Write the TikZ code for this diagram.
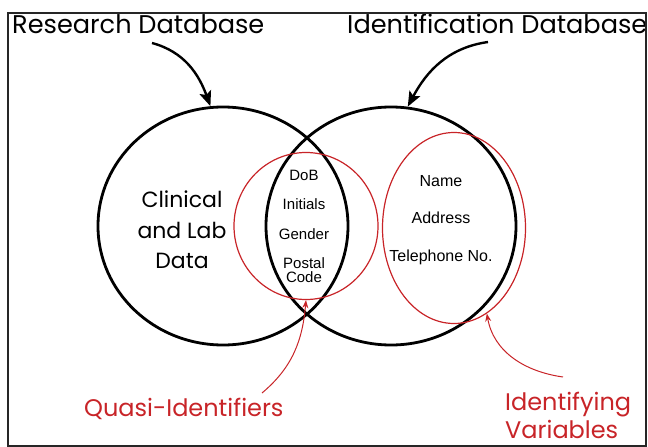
\documentclass[tikz,border=0pt]{standalone}
\usepackage{fontspec}
\setmainfont{Poppins}
\newfontfamily\arialfont{Liberation Sans}
\usetikzlibrary{arrows.meta,shapes.geometric}
\definecolor{linkred}{RGB}{200,36,40}

\begin{document}
\begin{tikzpicture}[x=1pt,y=-1pt,
	database/.style={draw=black,line width=2.8pt,ellipse,minimum width=250pt,minimum height=238pt},
	group/.style={draw=linkred,line width=1.2pt,ellipse},
	title/.style={font=\fontsize{25.6}{28}\selectfont,anchor=base west,inner sep=0pt},
	datum/.style={font=\fontsize{22}{26}\selectfont,anchor=base,inner sep=0pt},
	field/.style={font=\arialfont\fontsize{15}{16}\selectfont,anchor=base,inner sep=0pt},
	redlabel/.style={font=\fontsize{24}{28}\selectfont,text=linkred,anchor=base west,inner sep=0pt},
	pointer/.style={line width=2.4pt,-{Stealth[length=15pt,width=12pt,inset=3pt]}},
	redpointer/.style={draw=linkred,line width=1pt,-{Stealth[length=8pt,width=6pt]}}]
	\useasboundingbox (0,0) rectangle (648,447);

	% the two databases
	\node[database] (resdb) at (223,226) {};
	\node[database] (iddb) at (391,226) {};

	% groups of variables
	\node[group,minimum width=144pt,minimum height=147pt] (quasi) at (306,226) {};
	\node[group,minimum width=143pt,minimum height=191pt] (ident) at (454,228) {};

	\node[title] (restitle) at (12,34) {Research Database};
	\node[title] (idtitle) at (347,34) {Identification Database};

	\node[datum] (clin1) at (182,207) {Clinical};
	\node[datum] (clin2) at (182,238) {and Lab};
	\node[datum] (clin3) at (182,268) {Data};

	\node[field] (dob) at (304,180) {DoB};
	\node[field] (initials) at (304,209) {Initials};
	\node[field] (gender) at (304,239) {Gender};
	\node[field] (postal) at (304,268) {Postal};
	\node[field] (code) at (304,282) {Code};

	\node[field,font=\arialfont\fontsize{16}{17}\selectfont] (name) at (441,186) {Name};
	\node[field,font=\arialfont\fontsize{16}{17}\selectfont] (address) at (441,223) {Address};
	\node[field,font=\arialfont\fontsize{16}{17}\selectfont] (phone) at (441,261) {Telephone No.};

	\node[redlabel] (quasitext) at (84,416) {Quasi-Identifiers};
	\node[redlabel] (identtext) at (505,410) {Identifying};
	\node[redlabel] (vartext) at (505,438) {Variables};

	\coordinate (resfrom) at (152,43);
	\coordinate (idfrom) at (488,42);
	\coordinate (quasifrom) at (262,393);
	\coordinate (identfrom) at (563,377);

	\draw[pointer] (resfrom) to[out=-15,in=110] (resdb.96);
	\draw[pointer] (idfrom) to[out=188,in=62] (iddb.82);
	\draw[redpointer] (quasifrom) to[out=40,in=-95] (quasi.south);
	\draw[redpointer] (identfrom) to[out=172,in=-80] (ident.-69);

	\draw[black!85,line width=1.6pt] (8,13) rectangle (646,446);
\end{tikzpicture}
\end{document}
